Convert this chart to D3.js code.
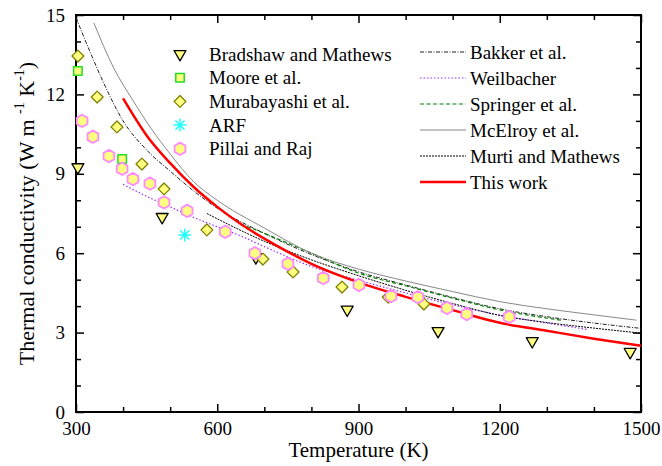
<!DOCTYPE html>
<html>
<head>
<meta charset="utf-8">
<script src="https://cdn.jsdelivr.net/npm/d3@7"></script>
<style>
  body { margin: 0; background: #fff; }
  text { font-family: 'Liberation Serif', 'DejaVu Serif', serif; }
  .tick text { font-size: 19px; fill: #000; }
  .tick line { stroke: #000; stroke-width: 1.5; }
  .legend text { font-size: 19px; fill: #000; }
</style>
</head>
<body>
<svg id="chart" width="662" height="466"></svg>
<script>
// Experimental points
var bradshawT = [304, 483, 682, 876, 1069, 1269, 1477];
var bradshawK = [9.25, 7.37, 5.85, 3.87, 3.06, 2.68, 2.27];
var mooreT = [304, 398];
var mooreK = [12.88, 9.56];
var murabayashiT = [304, 345, 387, 440, 487, 578, 697, 761, 865, 963, 1039];
var murabayashiK = [13.45, 11.9, 10.77, 9.37, 8.43, 6.88, 5.78, 5.29, 4.72, 4.34, 4.08];
var arfT = [531, 825];
var arfK = [6.69, 5.06];
var pillaiT = [313, 336, 370, 398, 421, 457, 487, 536, 617, 680, 750, 825, 901, 969, 1026, 1088, 1130, 1220];
var pillaiK = [11.0, 10.4, 9.67, 9.19, 8.8, 8.63, 7.92, 7.6, 6.81, 6.0, 5.6, 5.06, 4.8, 4.38, 4.34, 3.93, 3.7, 3.59];

// Correlations (curves)
var bakkerT = [300, 330, 357, 400, 450, 500, 550, 600, 700, 800, 900, 1000, 1100, 1200, 1300, 1400, 1500];
var bakkerK = [14.9, 13.6, 12.5, 11.0, 9.9, 9.1, 8.35, 7.7, 6.75, 5.95, 5.3, 4.8, 4.33, 3.9, 3.6, 3.36, 3.16];
var weilbacherT = [400, 450, 500, 550, 600, 650, 700, 800, 900, 1000, 1100, 1200, 1300, 1385];
var weilbacherK = [8.6, 8.15, 7.75, 7.35, 7.0, 6.65, 6.25, 5.5, 4.98, 4.5, 4.05, 3.66, 3.36, 3.12];
var springerT = [650, 700, 800, 900, 1000, 1100, 1200, 1330];
var springerK = [7.1, 6.75, 6.0, 5.25, 4.77, 4.3, 3.86, 3.47];
var mcelroyT = [338, 380, 420, 460, 500, 550, 600, 700, 800, 900, 1000, 1100, 1200, 1300, 1400, 1490];
var mcelroyK = [14.7, 13.0, 11.8, 10.7, 9.75, 8.7, 8.0, 6.95, 6.0, 5.4, 4.95, 4.55, 4.17, 3.9, 3.67, 3.47];
var murtiT = [578, 600, 700, 800, 900, 1000, 1100, 1200, 1300, 1400, 1500];
var murtiK = [7.5, 7.3, 6.45, 5.75, 5.15, 4.6, 4.1, 3.65, 3.38, 3.17, 2.98];
var thisWorkT = [400, 450, 500, 550, 600, 650, 700, 750, 800, 900, 1000, 1100, 1200, 1300, 1400, 1500];
var thisWorkK = [11.85, 10.45, 9.4, 8.5, 7.75, 7.1, 6.55, 6.05, 5.6, 4.9, 4.35, 3.85, 3.37, 3.07, 2.77, 2.5];

var xTicks = [300, 600, 900, 1200, 1500];
var xMinor = [400, 500, 700, 800, 1000, 1100, 1300, 1400];
var yTicks = [0, 3, 6, 9, 12, 15];
var yMinor = [1, 2, 4, 5, 7, 8, 10, 11, 13, 14];

var pointNames = ["Bradshaw and Mathews", "Moore et al.", "Murabayashi et al.", "ARF", "Pillai and Raj"];
var lineNames = ["Bakker et al.", "Weilbacher", "Springer et al.", "McElroy et al.", "Murti and Mathews", "This work"];

var FONT = "'Liberation Serif', 'DejaVu Serif', serif";
var margin = {top: 15, right: 21, bottom: 54, left: 76};
var width = 662 - margin.left - margin.right;
var height = 466 - margin.top - margin.bottom;

var svg = d3.select("#chart");
var chart = svg.append("g")
    .attr("transform", `translate(${margin.left}, ${margin.top})`);

var x = d3.scaleLinear().domain([300, 1500]).range([0, width]);
var y = d3.scaleLinear().domain([0, 15]).range([height, 0]);

function zip(ts, ks) {
  return ts.map(function(t, i) { return {t: t, k: ks[i]}; });
}

// axes, ticks pointing inward on all four sides
function styleAxis(g) {
  g.attr("font-family", FONT).attr("font-size", 19);
  g.select(".domain").remove();
}
chart.append("g")
    .attr("transform", `translate(0, ${height})`)
    .call(d3.axisBottom(x).tickValues(xTicks).tickFormat(d3.format("d"))
        .tickSizeInner(-8).tickSizeOuter(0).tickPadding(10))
    .call(styleAxis);
chart.append("g")
    .attr("transform", `translate(0, ${height})`)
    .call(d3.axisBottom(x).tickValues(xMinor).tickFormat("")
        .tickSizeInner(-5).tickSizeOuter(0))
    .call(styleAxis);
chart.append("g")
    .call(d3.axisTop(x).tickValues(xTicks).tickFormat("")
        .tickSizeInner(-8).tickSizeOuter(0))
    .call(styleAxis);
chart.append("g")
    .call(d3.axisTop(x).tickValues(xMinor).tickFormat("")
        .tickSizeInner(-5).tickSizeOuter(0))
    .call(styleAxis);
chart.append("g")
    .call(d3.axisLeft(y).tickValues(yTicks).tickFormat(d3.format("d"))
        .tickSizeInner(-8).tickSizeOuter(0).tickPadding(11))
    .call(styleAxis);
chart.append("g")
    .call(d3.axisLeft(y).tickValues(yMinor).tickFormat("")
        .tickSizeInner(-5).tickSizeOuter(0))
    .call(styleAxis);
chart.append("g")
    .attr("transform", `translate(${width}, 0)`)
    .call(d3.axisRight(y).tickValues(yTicks).tickFormat("")
        .tickSizeInner(-8).tickSizeOuter(0))
    .call(styleAxis);
chart.append("g")
    .attr("transform", `translate(${width}, 0)`)
    .call(d3.axisRight(y).tickValues(yMinor).tickFormat("")
        .tickSizeInner(-5).tickSizeOuter(0))
    .call(styleAxis);

chart.append("rect")
    .attr("width", width)
    .attr("height", height)
    .attr("fill", "none")
    .attr("stroke", "#000")
    .attr("stroke-width", 2);

// axis titles
svg.append("text")
    .attr("x", margin.left + width / 2)
    .attr("y", 457)
    .attr("text-anchor", "middle")
    .attr("font-family", FONT)
    .style("font-size", "21px")
    .text("Temperature (K)");

var yTitle = svg.append("text")
    .attr("transform", `translate(34, ${margin.top + height / 2}) rotate(-90)`)
    .attr("text-anchor", "middle")
    .attr("font-family", FONT)
    .style("font-size", "22px");
yTitle.append("tspan").text("Thermal conductivity (W m ");
yTitle.append("tspan").attr("dy", -10).style("font-size", "14px").text("-1");
yTitle.append("tspan").attr("dy", 10).text(" K");
yTitle.append("tspan").attr("dy", -10).style("font-size", "14px").text("-1");
yTitle.append("tspan").attr("dy", 10).text(")");

// curves
var lineGen = d3.line()
    .x(function(d) { return x(d.t); })
    .y(function(d) { return y(d.k); })
    .curve(d3.curveMonotoneX);

var curves = [
  {data: zip(bakkerT, bakkerK), stroke: "#222", width: 1, dash: "4,1.5,1,1.5"},
  {data: zip(weilbacherT, weilbacherK), stroke: "#9933ff", width: 1.2, dash: "1.5,2"},
  {data: zip(springerT, springerK), stroke: "#008000", width: 1.2, dash: "4,2.5"},
  {data: zip(mcelroyT, mcelroyK), stroke: "#888", width: 1, dash: null},
  {data: zip(murtiT, murtiK), stroke: "#000", width: 1, dash: "2,1"},
  {data: zip(thisWorkT, thisWorkK), stroke: "#ff0000", width: 2.5, dash: null}
];

chart.append("g").selectAll("path")
    .data(curves)
    .enter().append("path")
        .attr("d", function(d) { return lineGen(d.data); })
        .attr("fill", "none")
        .attr("stroke", function(d) { return d.stroke; })
        .attr("stroke-width", function(d) { return d.width; })
        .attr("stroke-dasharray", function(d) { return d.dash; });

// marker shapes
var triPath = d3.symbol().type(d3.symbolTriangle).size(62)();
var squarePath = d3.symbol().type(d3.symbolSquare).size(72)();
var diamondPath = d3.symbol().type(d3.symbolSquare).size(70)();
var starPath = "M0,-6.5L0,6.5M-6.5,0L6.5,0M-4.6,-4.6L4.6,4.6M-4.6,4.6L4.6,-4.6";
var hexPath = d3.range(6).map(function(i) {
  var a = Math.PI / 2 + i * Math.PI / 3;
  return (i ? "L" : "M") + (6.2 * Math.cos(a)).toFixed(2) + "," + (6.2 * Math.sin(a)).toFixed(2);
}).join("") + "Z";

var markerSets = [
  {data: zip(bradshawT, bradshawK), path: triPath, rotate: 180, fill: "#ffff80", stroke: "#000", sw: 1.3},
  {data: zip(mooreT, mooreK), path: squarePath, rotate: 0, fill: "#ffff80", stroke: "#22dd22", sw: 1.5},
  {data: zip(murabayashiT, murabayashiK), path: diamondPath, rotate: 45, fill: "#ffff80", stroke: "#808000", sw: 1.3},
  {data: zip(arfT, arfK), path: starPath, rotate: 0, fill: "none", stroke: "#22ffff", sw: 1.5},
  {data: zip(pillaiT, pillaiK), path: hexPath, rotate: 0, fill: "#ffff80", stroke: "#ff88ff", sw: 1.8}
];

function drawMarker(sel, m) {
  sel.append("path")
      .attr("d", m.path)
      .attr("transform", "rotate(" + m.rotate + ")")
      .attr("fill", m.fill)
      .attr("stroke", m.stroke)
      .attr("stroke-width", m.sw)
      .attr("stroke-linejoin", "round");
}

markerSets.forEach(function(m) {
  chart.append("g").selectAll("g")
      .data(m.data)
      .enter().append("g")
          .attr("transform", function(d) { return `translate(${x(d.t)}, ${y(d.k)})`; })
          .each(function() { drawMarker(d3.select(this), m); });
});

// legend, left column (symbols)
var legendLeft = svg.append("g").attr("class", "legend").attr("font-family", FONT);
pointNames.forEach(function(name, i) {
  var row = legendLeft.append("g")
      .attr("transform", `translate(180, ${54 + i * 23.7})`);
  drawMarker(row, markerSets[i]);
  row.append("text").attr("x", 29).attr("y", 6.5).text(name);
});

// legend, right column (lines)
var legendRight = svg.append("g").attr("class", "legend").attr("font-family", FONT);
lineNames.forEach(function(name, i) {
  var c = curves[i];
  var row = legendRight.append("g")
      .attr("transform", `translate(420, ${52 + i * 26})`);
  row.append("line")
      .attr("x1", 0).attr("x2", 46)
      .attr("stroke", c.stroke)
      .attr("stroke-width", c.width)
      .attr("stroke-dasharray", c.dash);
  row.append("text").attr("x", 50).attr("y", 7).text(name);
});
</script>
</body>
</html>
